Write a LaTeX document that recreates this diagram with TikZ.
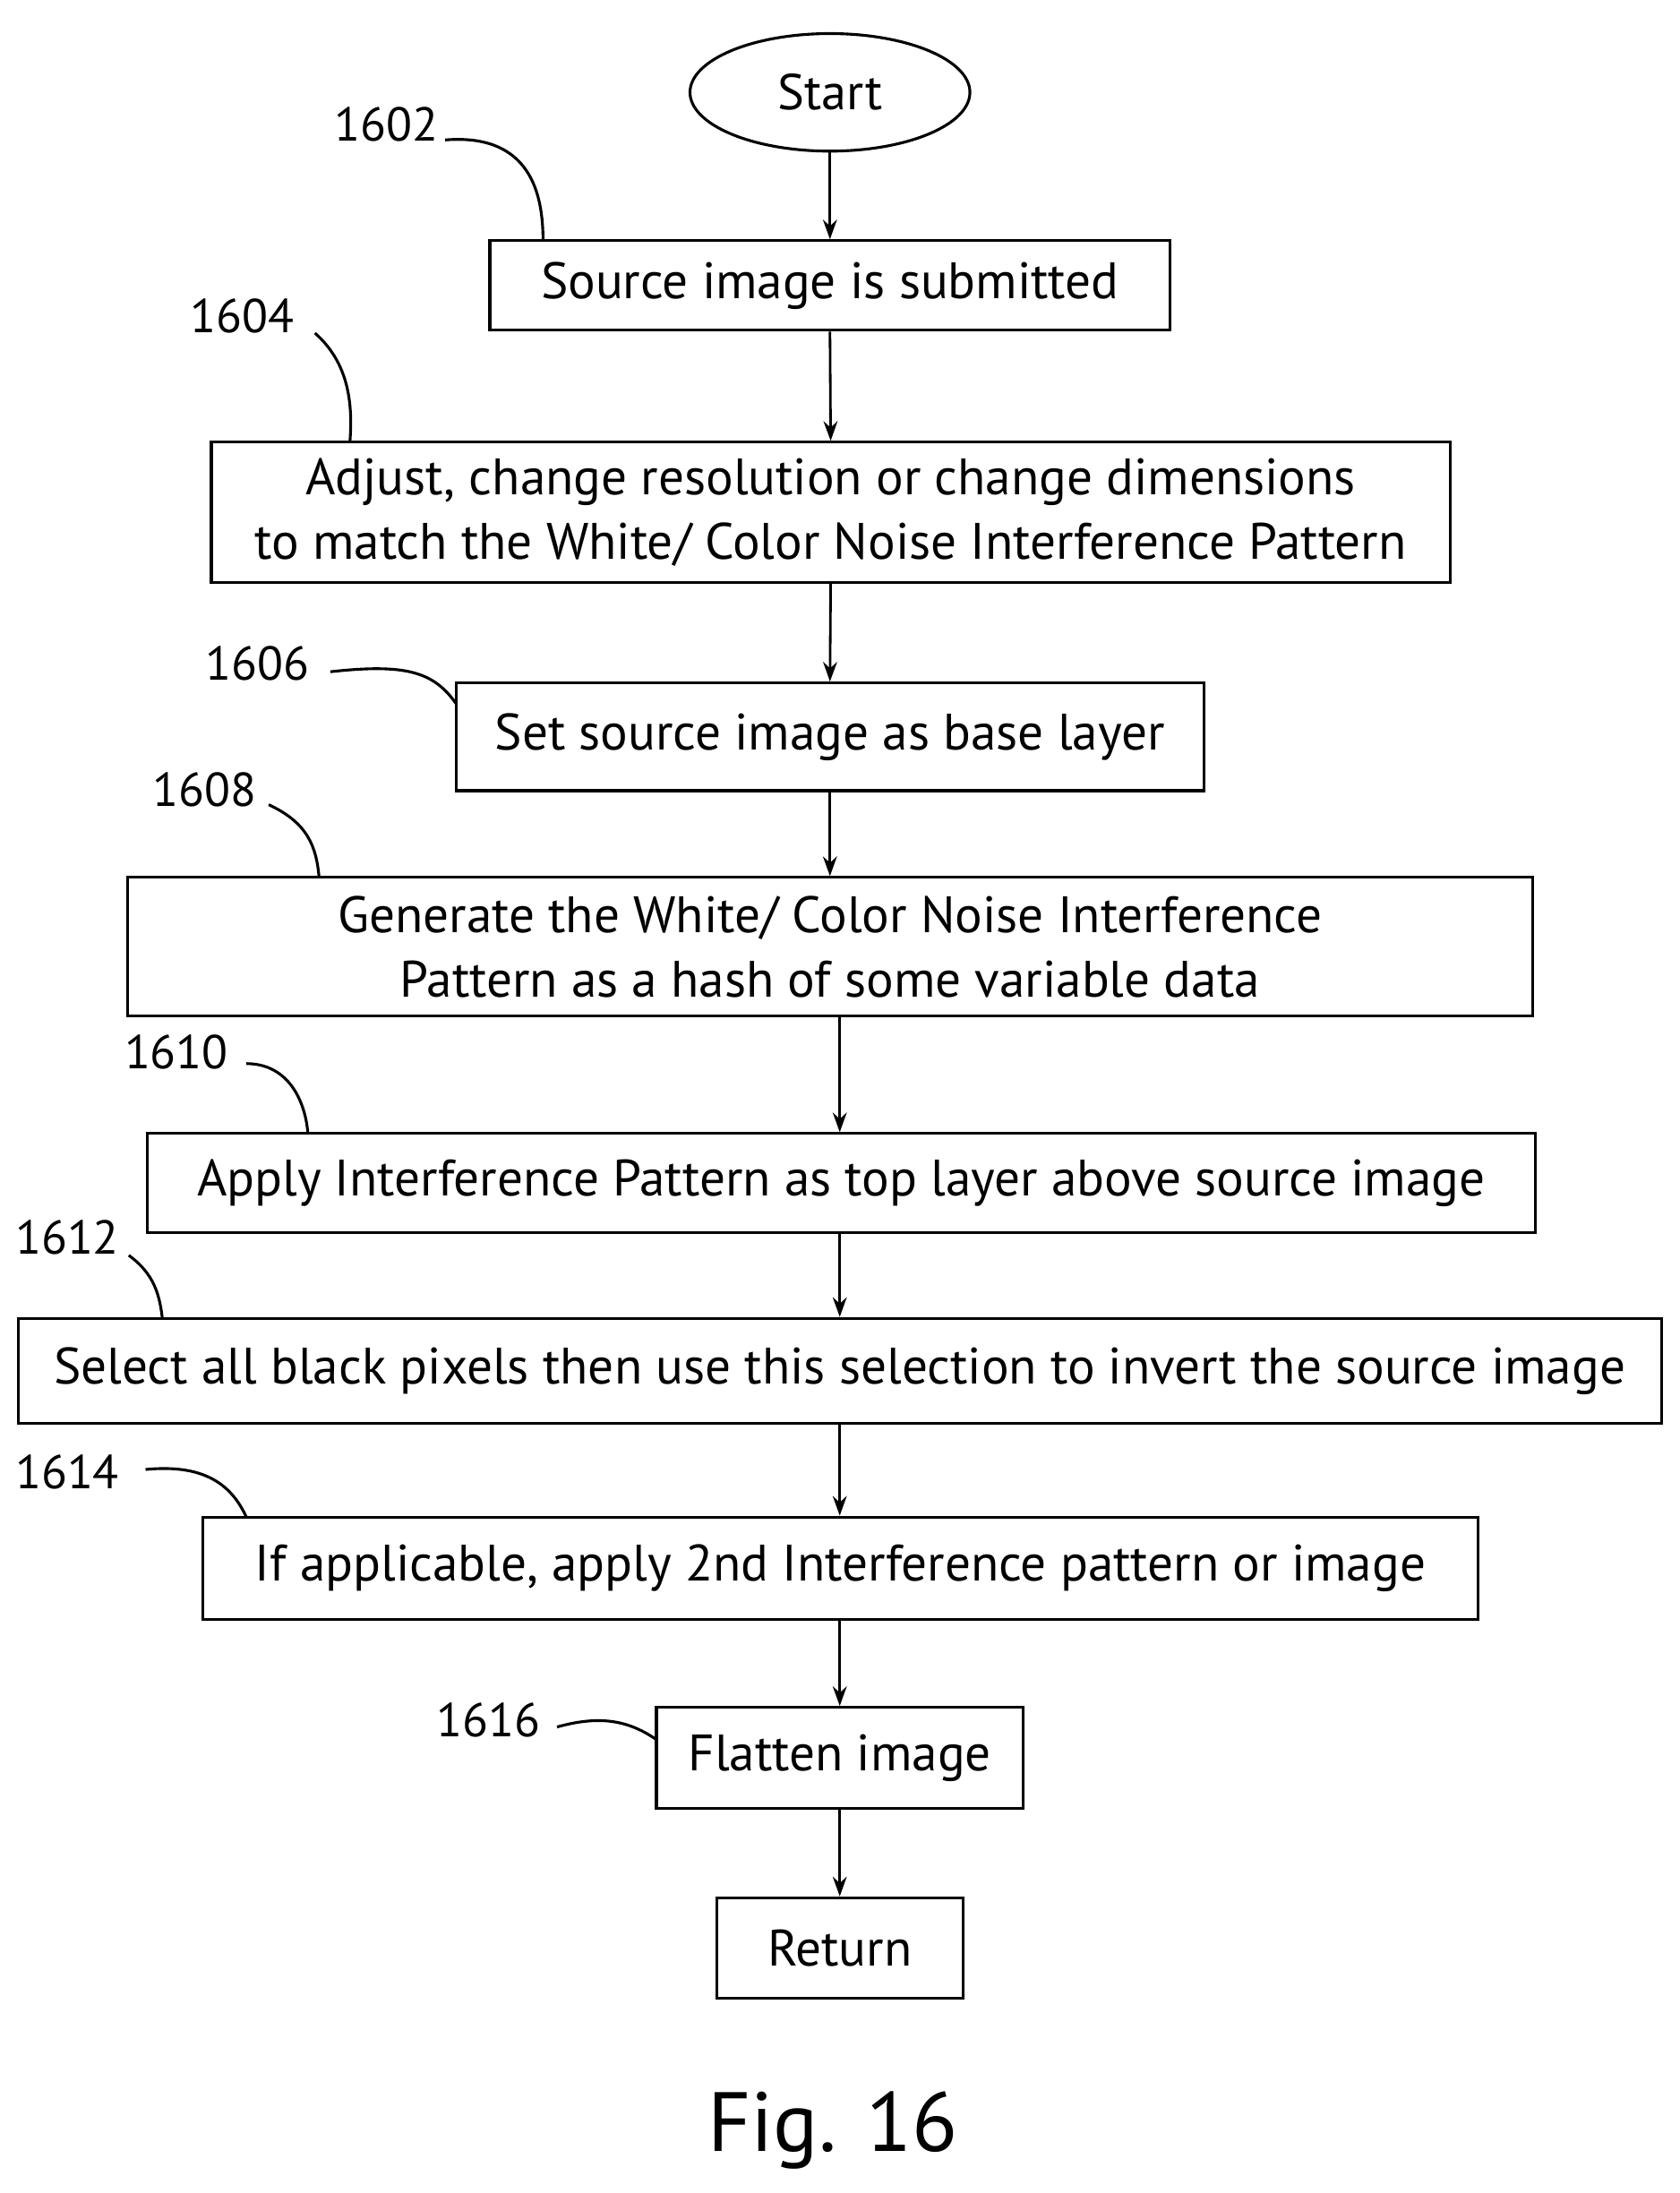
\documentclass[tikz,border=0pt]{standalone}
\usepackage{fontspec}
\setmainfont{PT Sans}
\usetikzlibrary{arrows.meta,shapes.geometric}
\begin{document}
\begin{tikzpicture}[x=0.5pt,y=-0.5pt,
  box/.style={draw,line width=1pt,inner sep=0pt,align=center,font=\fontsize{18.3}{23}\selectfont},
  lab/.style={font=\fontsize{17}{20}\selectfont,inner sep=1pt},
  arr/.style={-{Stealth[length=7pt,width=5pt]},line width=0.9pt},
  lead/.style={line width=1pt}]
\useasboundingbox (0,0) rectangle (1200,1567);
\node[draw,line width=1pt,ellipse,minimum width=100pt,minimum height=42pt,inner sep=0pt,font=\fontsize{18}{20}\selectfont] (s) at (593,66) {Start};
\newcommand{\bx}[6]{\node[box,minimum width=#4*0.5pt-#2*0.5pt,minimum height=#5*0.5pt-#3*0.5pt] (#1) at ({(#2+#4)/2},{(#3+#5)/2}) {#6};}
\bx{b1}{350}{172}{836}{236}{Source image is submitted}
\bx{b2}{151}{316}{1036}{416}{Adjust, change resolution or change dimensions\\to match the White/ Color Noise Interference Pattern}
\bx{b3}{326}{488}{860}{565}{Set source image as base layer}
\bx{b4}{91}{627}{1095}{726}{Generate the White/ Color Noise Interference\\Pattern as a hash of some variable data}
\bx{b5}{105}{810}{1097}{881}{Apply Interference Pattern as top layer above source image}
\bx{b6}{13}{942}{1187}{1017}{Select all black pixels then use this selection to invert the source image}
\bx{b7}{145}{1084}{1056}{1157}{If applicable, apply 2nd Interference pattern or image}
\bx{b8}{469}{1220}{731}{1292}{Flatten image}
\bx{b9}{512}{1356}{688}{1428}{Return}
\draw[arr] (s.south) -- (b1.north);
\draw[arr] (b1.south) -- (b2.north);
\draw[arr] (b2.south) -- (b3.north);
\draw[arr] (b3.south) -- (b4.north);
\draw[arr] (b4.south -| 600,0) -- (b5.north -| 600,0);
\draw[arr] (b5.south -| 600,0) -- (b6.north -| 600,0);
\draw[arr] (b6.south -| 600,0) -- (b7.north -| 600,0);
\draw[arr] (b7.south -| 600,0) -- (b8.north -| 600,0);
\draw[arr] (b8.south -| 600,0) -- (b9.north -| 600,0);
\node[lab] (l1) at (276,89) {1602};
\node[lab] (l2) at (173,226) {1604};
\node[lab] (l3) at (184,474) {1606};
\node[lab] (l4) at (146,564) {1608};
\node[lab] (l5) at (126,752) {1610};
\node[lab] (l6) at (48,884) {1612};
\node[lab] (l7) at (48,1052) {1614};
\node[lab] (l8) at (349,1229) {1616};
\coordinate (t1) at (388,172); \coordinate (t2) at (250,316); \coordinate (t3) at (326,503);
\coordinate (t4) at (228,627); \coordinate (t5) at (220,810); \coordinate (t6) at (116,942);
\coordinate (t7) at (176,1084); \coordinate (t8) at (469,1243);
\draw[lead] (318,100) .. controls (380,95) and (388,140) .. (t1);
\draw[lead] (225,238) .. controls (250,260) and (252,290) .. (t2);
\draw[lead] (236,480) .. controls (290,474) and (310,480) .. (t3);
\draw[lead] (192,575) .. controls (220,588) and (226,605) .. (t4);
\draw[lead] (176,760) .. controls (205,760) and (218,785) .. (t5);
\draw[lead] (92,897) .. controls (110,910) and (114,925) .. (t6);
\draw[lead] (104,1050) .. controls (145,1046) and (165,1060) .. (t7);
\draw[lead] (398,1234) .. controls (430,1225) and (450,1230) .. (t8);
\node[font=\fontsize{30}{36}\selectfont] (fig) at (595,1522) {Fig. 16};
\end{tikzpicture}
\end{document}
